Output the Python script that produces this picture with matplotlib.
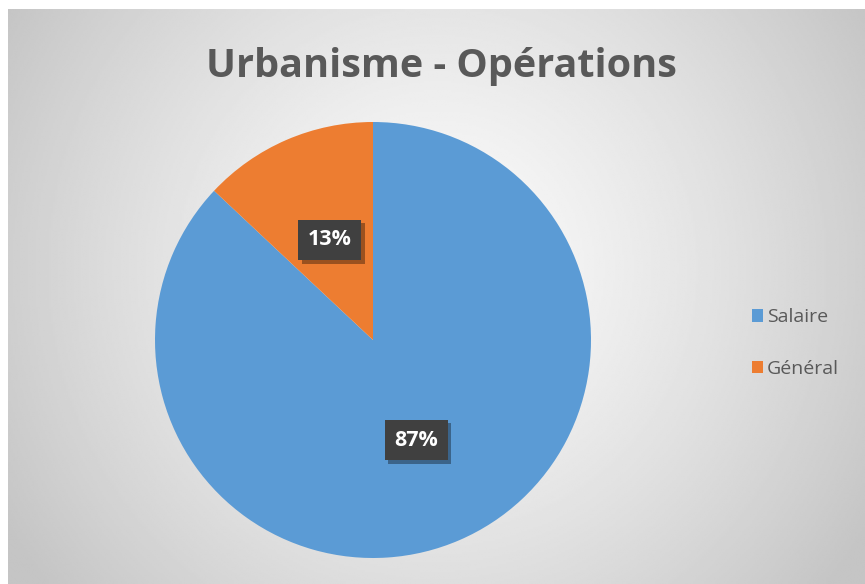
import numpy as np
import matplotlib.pyplot as plt
import matplotlib.patheffects as pe

labels = ['Salaire', 'Général']
values = [87, 13]
colors = ['#5b9bd5', '#ed7d31']
title = 'Urbanisme - Opérations'

fig = plt.figure(figsize=(8.65, 5.84), dpi=100)
fig.patch.set_facecolor('white')

# fond en dégradé radial (clair au centre, gris sur les bords)
bg = fig.add_axes([8 / 865, 0, 1 - 8 / 865, 1 - 9 / 584])
ny, nx = 300, 450
yy, xx = np.mgrid[0:ny, 0:nx]
cx, cy = 0.5 * nx, 0.45 * ny
d = np.sqrt(((xx - cx) / (0.62 * nx)) ** 2 + ((yy - cy) / (0.62 * nx)) ** 2)
d = np.clip(d / 0.95, 0, 1)
shade = 0.985 - 0.215 * d ** 1.3
bg.imshow(shade, cmap='gray', vmin=0, vmax=1, aspect='auto',
          extent=[0, 1, 0, 1], interpolation='bilinear')
bg.set_axis_off()

ax = fig.add_axes([155 / 865, 1 - 558 / 584, 436 / 865, 436 / 584])
ax.set_axis_off()
wedges, texts = ax.pie(values, colors=colors, startangle=90, counterclock=False,
                       radius=1.0, wedgeprops=dict(linewidth=0))
ax.set_xlim(-1, 1)
ax.set_ylim(-1, 1)
ax.set_aspect('equal')

# étiquettes de pourcentage dans des boîtes sombres avec ombre
total = sum(values)
for w, v in zip(wedges, values):
    ang = np.deg2rad((w.theta1 + w.theta2) / 2)
    x, y = 0.5 * np.cos(ang), 0.5 * np.sin(ang)
    t = ax.text(x, y, f'{round(100 * v / total)}%', ha='center', va='center',
                fontsize=15.5, fontweight='bold', family='Open Sans', color='white',
                bbox=dict(boxstyle='square,pad=0.45', fc='#404040', ec='none'))
    t.get_bbox_patch().set_path_effects(
        [pe.SimplePatchShadow(offset=(2.5, -2.5), shadow_rgbFace='black', alpha=0.35),
         pe.Normal()])

fig.text(441 / 865, 1 - 67 / 584, title, ha='center', va='center',
         fontsize=28.5, fontweight='bold', family='Open Sans', color='#595959')

leg = fig.legend(wedges, labels, loc='center left', bbox_to_anchor=(734 / 865, 1 - 343 / 584),
                 frameon=False, handlelength=0.6, handleheight=0.6, handletextpad=0.2,
                 labelspacing=1.7, prop={'family': 'Open Sans', 'size': 14})
for t in leg.get_texts():
    t.set_color('#595959')

fig.savefig('out.png', dpi=100)
